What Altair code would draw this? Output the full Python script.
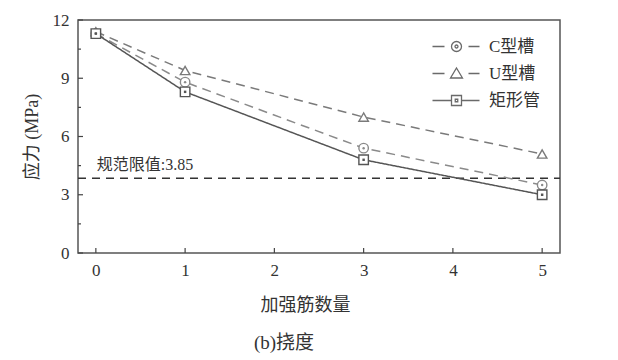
import altair as alt
import pandas as pd

# ---- data ----
x_vals = [0, 1, 3, 5]
series = ["C型槽", "U型槽", "矩形管"]
c_vals = [11.3, 8.8, 5.4, 3.5]
u_vals = [11.4, 9.4, 7.0, 5.1]
r_vals = [11.3, 8.3, 4.8, 3.0]
limit = 3.85
limit_label = "规范限值:3.85"
x_ticks = [0, 1, 2, 3, 4, 5]
y_ticks = [0, 3, 6, 9, 12]
y_minor = [1.5, 4.5, 7.5, 10.5]

rows = []
for name, vals in zip(series, [c_vals, u_vals, r_vals]):
    for x, v in zip(x_vals, vals):
        rows.append({"n": x, "stress": v, "series": name})
df = pd.DataFrame(rows)

FONT = "Liberation Serif, Noto Sans CJK SC"
W, H = 482, 233
colors = ["#8a8a8a", "#7a7a7a", "#555555"]
dashes = [[9, 6], [9, 6], [1, 0]]

xs = alt.Scale(domain=[-0.2, 5.2], nice=False, zero=False)
ys = alt.Scale(domain=[0, 12], nice=False)

x_enc = alt.X("n:Q", scale=xs,
              axis=alt.Axis(values=x_ticks, format="d", title="加强筋数量", titleX=227, titleY=52,
                            titleBaseline="middle", titleAnchor="start", titleAlign="center"))
y_enc = alt.Y("stress:Q", scale=ys,
              axis=alt.Axis(values=y_ticks, format="d", title="应力 (MPa)", titleX=-46, titleY=H / 2,
                            titleAngle=270, titleAlign="center", titleBaseline="middle"))

col = alt.Color("series:N", scale=alt.Scale(domain=series, range=colors), legend=None)

base = alt.Chart(df)

lines = base.mark_line(strokeWidth=1.5).encode(
    x=x_enc, y=y_enc, color=col,
    strokeDash=alt.StrokeDash("series:N", scale=alt.Scale(domain=series, range=dashes), legend=None),
)

points = base.mark_point(filled=True, fill="white", strokeWidth=1.4, size=90, opacity=1).encode(
    x="n:Q", y="stress:Q",
    stroke=alt.Stroke("series:N", scale=alt.Scale(domain=series, range=colors), legend=None),
    shape=alt.Shape("series:N", scale=alt.Scale(domain=series, range=["circle", "triangle-up", "square"]), legend=None),
)

dots = alt.Chart(df[df["series"] != "U型槽"]).mark_point(filled=True, size=6, opacity=1).encode(
    x="n:Q", y="stress:Q",
    color=alt.Color("series:N", scale=alt.Scale(domain=series, range=colors), legend=None),
    shape=alt.Shape("series:N", scale=alt.Scale(domain=["C型槽", "矩形管"], range=["circle", "square"]), legend=None),
)

# reference limit line
ref_df = pd.DataFrame({"n": [0], "stress": [limit], "label": [limit_label]})
ref_rule = alt.Chart(ref_df).mark_rule(color="#333", strokeWidth=1.5, strokeDash=[8, 6]).encode(
    y="stress:Q", x=alt.value(0), x2=alt.value(W))
ref_text = alt.Chart(ref_df).mark_text(align="left", baseline="middle", dx=1, dy=-13,
                                       font=FONT, fontSize=16, color="#333").encode(
    x="n:Q", y="stress:Q", text="label:N")

# inward ticks
xt_df = pd.DataFrame({"n": x_ticks})
xticks = alt.Chart(xt_df).mark_rule(color="#444", strokeWidth=1.2).encode(
    x="n:Q", y=alt.value(H), y2=alt.value(H - 5))
yt_df = pd.DataFrame({"stress": y_ticks})
yticks = alt.Chart(yt_df).mark_rule(color="#444", strokeWidth=1.2).encode(
    y="stress:Q", x=alt.value(0), x2=alt.value(5))
ym_df = pd.DataFrame({"stress": y_minor})
yminor = alt.Chart(ym_df).mark_rule(color="#444", strokeWidth=1.2).encode(
    y="stress:Q", x=alt.value(0), x2=alt.value(3))

# legend carrier layer (points out of range, clipped)
leg_paths = [
    "M-4.8,0H-2.4M2.4,0H4.6M1,0A1,1 0 1,1 -1,0A1,1 0 1,1 1,0ZM0.3,0A0.3,0.3 0 1,1 -0.3,0A0.3,0.3 0 1,1 0.3,0Z",
    "M-4.8,0H-2.4M2.4,0H4.6M0,-1.1L1.2,0.9H-1.2Z",
    "M-4.8,0H-1M1,0H4.6M-1,-1H1V1H-1ZM-0.25,-0.25H0.25V0.25H-0.25Z",
]
leg_df = pd.DataFrame({"n": [0, 0, 0], "stress": [-5, -5, -5], "series": series})
legend_layer = alt.Chart(leg_df).mark_point(
    filled=False, color="#6a6a6a", strokeWidth=1.3, size=100, opacity=1, clip=True
).encode(
    x="n:Q", y="stress:Q",
    shape=alt.Shape("series:N", scale=alt.Scale(domain=series, range=leg_paths),
                    legend=alt.Legend(title=None, orient="none", legendX=370, legendY=18,
                                      symbolSize=100, labelFont=FONT, labelFontSize=17,
                                      labelColor="#333", labelOffset=24, rowPadding=9,
                                      padding=0, symbolStrokeWidth=1.3,
                                      symbolStrokeColor="#6a6a6a")),
)

chart = alt.layer(
    ref_rule, ref_text, lines, points, dots, xticks, yticks, yminor, legend_layer
).resolve_scale(
    shape="independent", color="independent", stroke="independent", strokeDash="independent"
).properties(
    width=W, height=H,
    padding={"left": 70, "top": 12, "right": 50, "bottom": 104},
    autosize=alt.AutoSizeParams(type="none"),
    title=alt.TitleParams("(b)挠度", orient="bottom", font=FONT, fontSize=19,
                          fontWeight="normal", color="#333", dx=-35, offset=20),
).configure_view(
    stroke="#555", strokeWidth=1.5
).configure_axis(
    grid=False, domain=False, ticks=False, tickSize=0,
    labelFont=FONT, labelFontSize=17, labelColor="#333", labelPadding=9,
    titleFont=FONT, titleFontSize=18, titleFontWeight="normal", titleColor="#333",
)

chart.save("out.html", embed_options={"renderer": "svg", "actions": False})
